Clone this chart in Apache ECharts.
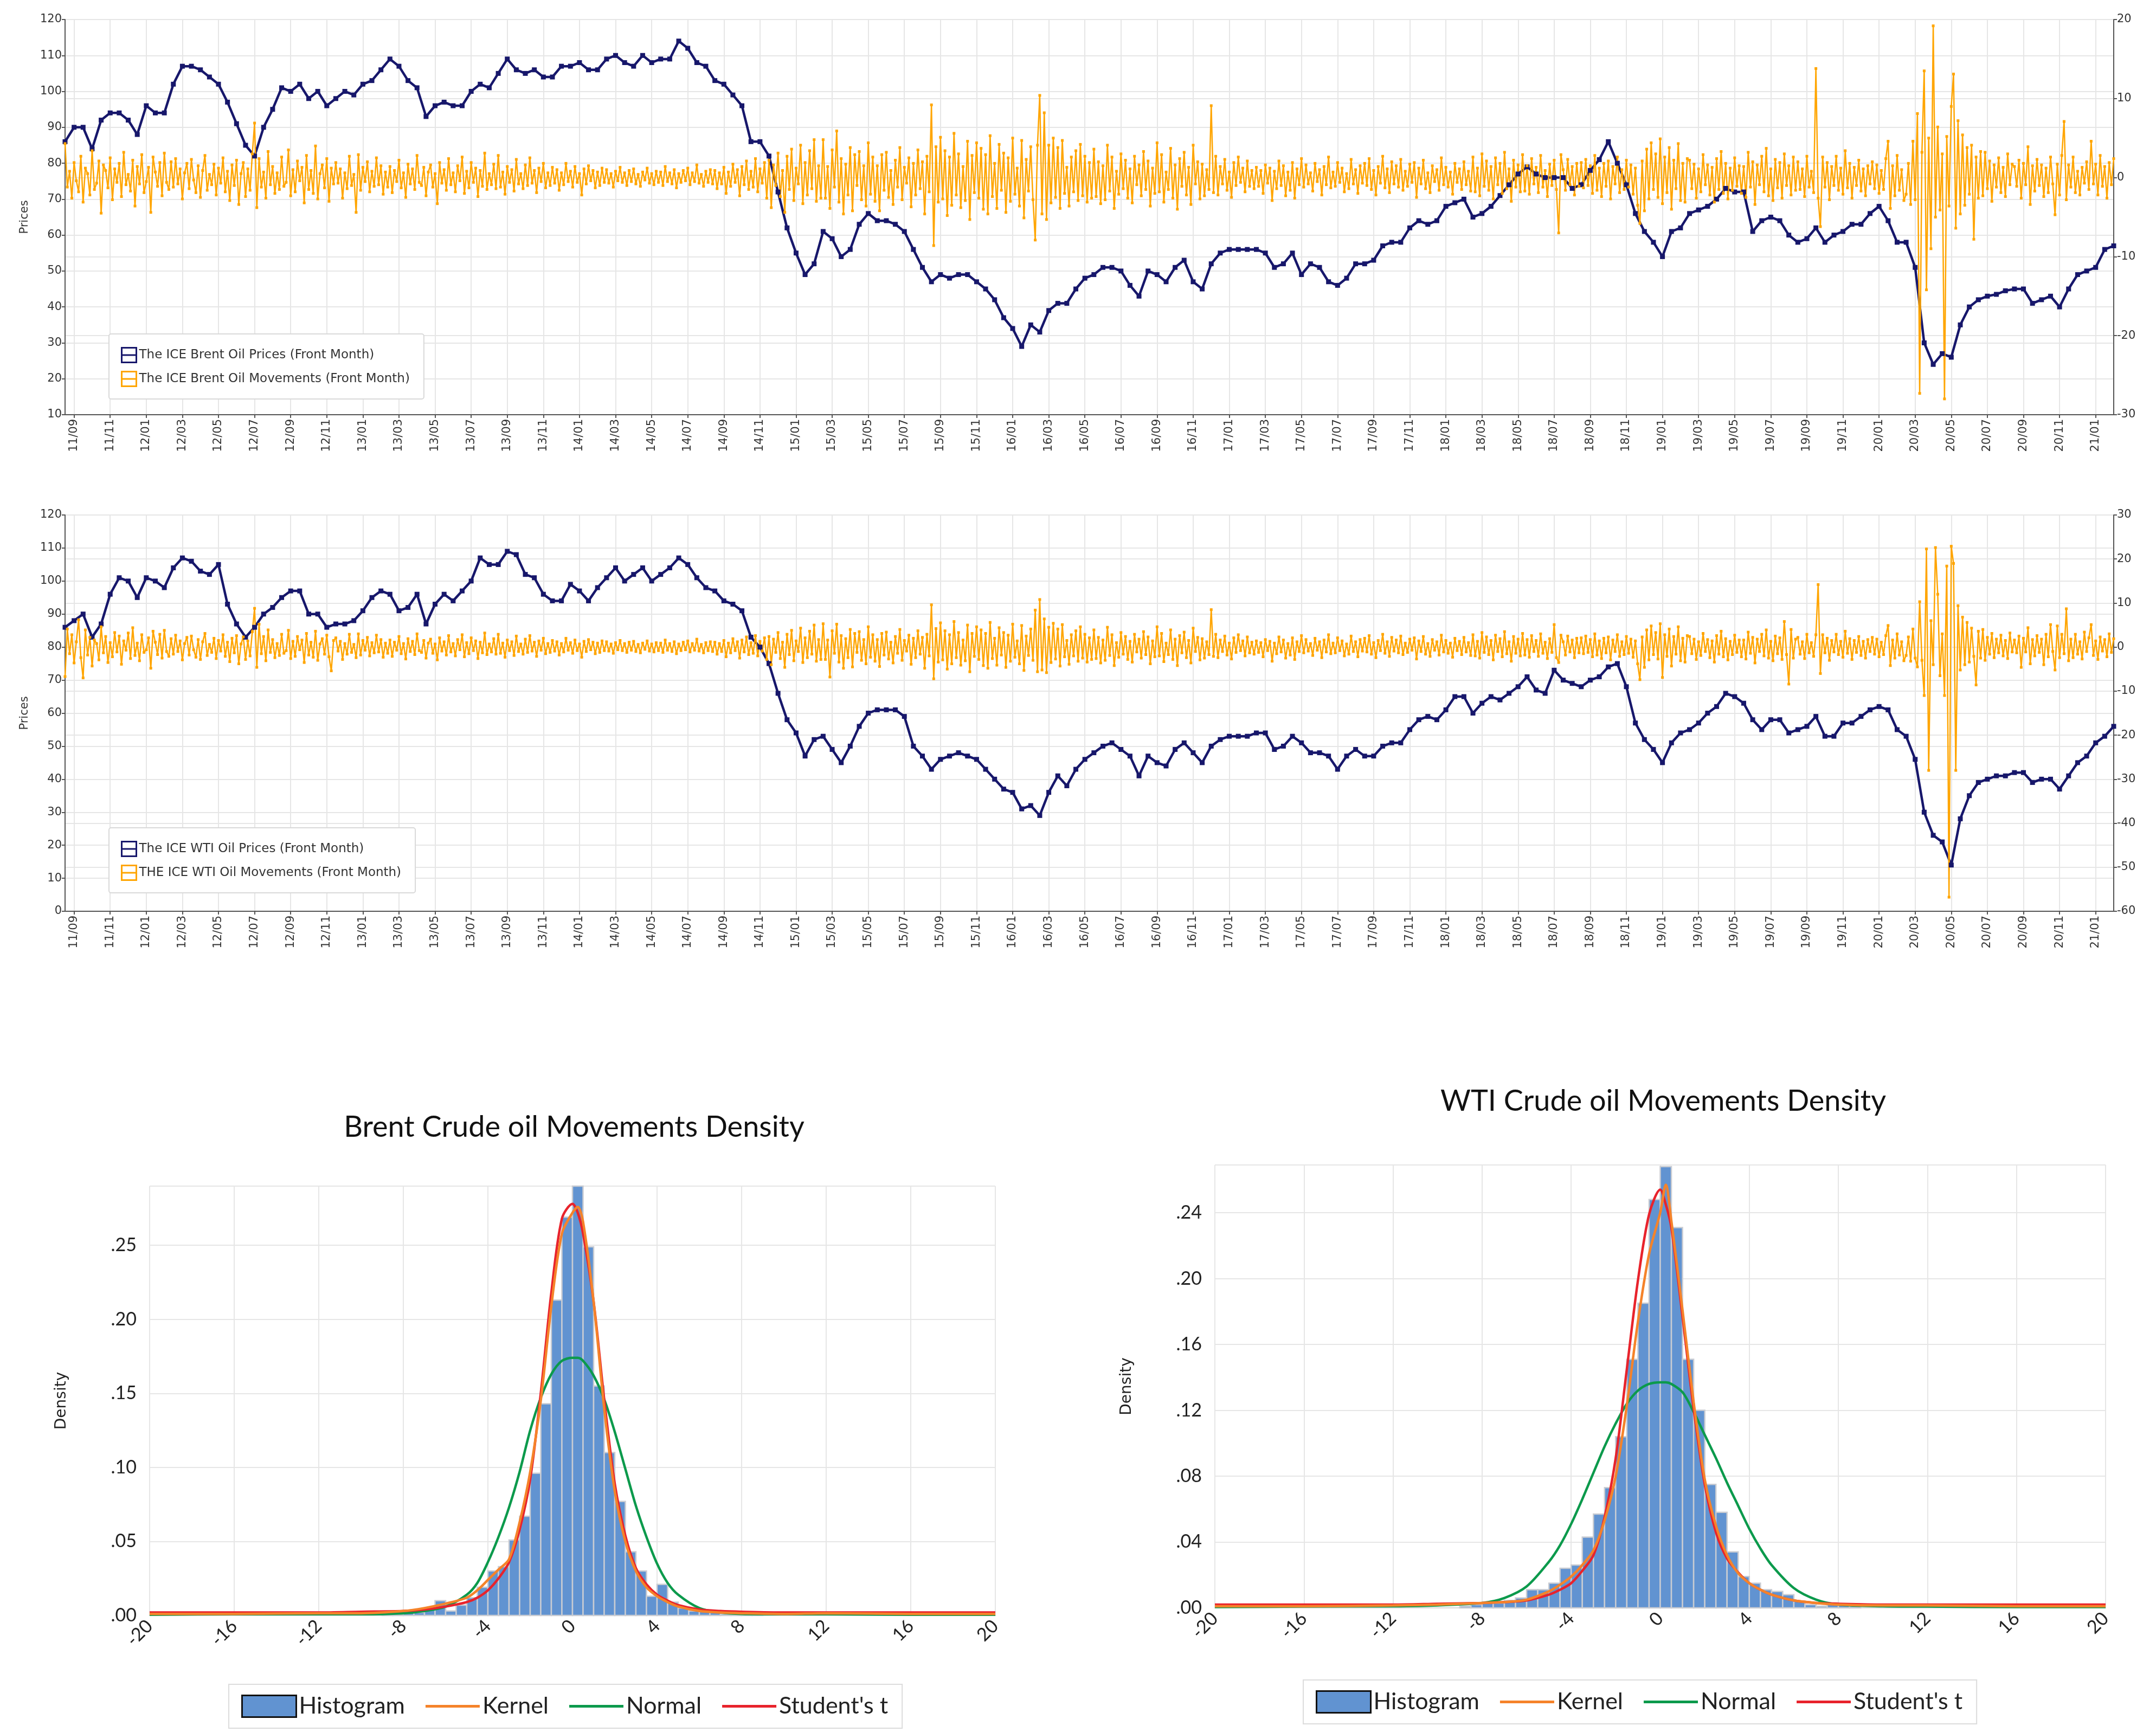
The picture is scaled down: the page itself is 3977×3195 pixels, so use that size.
<!DOCTYPE html>
<html>
<head>
<meta charset="utf-8">
<title>ICE Brent / WTI prices, movements and densities</title>
<script src="https://cdn.jsdelivr.net/npm/echarts@6/dist/echarts.min.js"></script>
<style>
  html, body { margin: 0; padding: 0; background: #fff; }
  #mainchart { width: 3977px; height: 3195px; }
</style>
</head>
<body>
<div id="mainchart"></div>
<script>
// prices: two points a month, 15 Aug 2011 .. 1 Feb 2021
var brentPrice = [
  86,90,90,84,92,94,94,92,88,96,94,94,
  102,107,107,106,104,102,97,91,85,82,90,95,
  101,100,102,98,100,96,98,100,99,102,103,106,
  109,107,103,101,93,96,97,96,96,100,102,101,
  105,109,106,105,106,104,104,107,107,108,106,106,
  109,110,108,107,110,108,109,109,114,112,108,107,
  103,102,99,96,86,86,82,72,62,55,49,52,
  61,59,54,56,63,66,64,64,63,61,56,51,
  47,49,48,49,49,47,45,42,37,34,29,35,
  33,39,41,41,45,48,49,51,51,50,46,43,
  50,49,47,51,53,47,45,52,55,56,56,56,
  56,55,51,52,55,49,52,51,47,46,48,52,
  52,53,57,58,58,62,64,63,64,68,69,70,
  65,66,68,71,74,77,79,77,76,76,76,73,
  74,78,81,86,80,74,66,61,58,54,61,62,
  66,67,68,70,73,72,72,61,64,65,64,60,
  58,59,62,58,60,61,63,63,66,68,64,58,
  58,51,30,24,27,26,35,40,42,43,43.5,44.5,
  45,45,41,42,43,40,45,49,50,51,56,57
];
var wtiPrice = [
  86,88,90,83,87,96,101,100,95,101,100,98,
  104,107,106,103,102,105,93,87,83,86,90,92,
  95,97,97,90,90,86,87,87,88,91,95,97,
  96,91,92,96,87,93,96,94,97,100,107,105,
  105,109,108,102,101,96,94,94,99,97,94,98,
  101,104,100,102,104,100,102,104,107,105,101,98,
  97,94,93,91,83,80,75,66,58,54,47,52,
  53,49,45,50,56,60,61,61,61,59,50,47,
  43,46,47,48,47,46,43,40,37,36,31,32,
  29,36,41,38,43,46,48,50,51,49,47,41,
  47,45,44,49,51,48,45,50,52,53,53,53,
  54,54,49,50,53,51,48,48,47,43,47,49,
  47,47,50,51,51,55,58,59,58,61,65,65,
  60,63,65,64,66,68,71,67,66,73,70,69,
  68,70,71,74,75,68,57,52,49,45,51,54,
  55,57,60,62,66,65,63,58,55,58,58,54,
  55,56,59,53,53,57,57,59,61,62,61,55,
  53,46,30,23,21,14,28,35,39,40,41,41,
  42,42,39,40,40,37,41,45,47,51,53,56
];

// movements: eight points a month over the same span, one row = three months
var brentMove = [
  4.3,-1.2,0.8,-2.6,1.9,-0.4,-1.8,2.7,-3.1,1.2,0.5,-2.2,3.4,-1.5,-0.7,2.1,-4.5,1.6,0.9,-1.3,2.5,-2.8,1.1,-0.6,
  1.8,-2.4,3.2,-0.9,0.4,-1.7,2.2,-3.6,1.4,-0.8,2.9,-1.9,-0.5,1.3,-4.4,2.6,0.7,-1.1,1.9,-2.3,3.1,-0.6,-1.5,2.0,
  -1.2,2.4,-0.8,1.1,-2.7,0.6,1.8,-1.4,2.3,-0.3,-1.9,1.5,-2.5,0.9,2.8,-1.6,0.4,-0.9,1.7,-2.2,1.2,-0.7,2.5,-1.8,
  0.8,-2.9,1.6,-1.0,2.2,-3.4,0.5,1.9,-2.4,1.1,-1.6,3.0,6.9,-3.8,2.4,-1.2,0.7,-2.6,3.3,-0.9,1.4,-2.0,0.6,-1.5,
  2.6,-1.1,-0.6,3.5,-2.3,1.0,-1.8,2.1,-0.4,1.3,-3.2,2.8,-1.5,0.9,-2.0,4.0,-2.7,0.5,1.6,-1.3,2.4,-3.0,1.2,-0.8,
  1.9,-0.7,1.1,-2.6,0.6,-1.4,2.7,-1.0,0.4,-4.4,2.9,-1.6,1.3,-0.5,2.0,-1.8,0.8,-1.1,2.5,-0.9,1.5,-2.1,0.7,-1.2,
  1.4,-1.9,0.9,-0.5,2.2,-1.3,0.6,-2.5,1.7,-0.8,1.1,-1.5,2.8,-0.6,-1.0,1.3,-2.3,0.7,1.6,-1.2,0.5,-3.3,1.9,-0.7,
  1.0,-1.6,2.4,-0.9,0.6,-1.8,1.5,-0.4,2.6,-2.0,0.8,-1.3,1.9,-0.6,1.2,-2.4,0.9,-1.1,3.1,-1.5,0.5,-0.9,1.7,-1.4,
  2.8,-1.2,0.7,-2.1,1.4,-0.6,1.0,-1.7,2.3,-0.8,0.5,-1.4,1.6,-1.0,2.5,-0.7,0.9,-1.9,1.2,-0.5,1.8,-1.3,0.6,-1.0,
  1.3,-0.7,1.0,-1.6,0.6,-0.9,1.8,-0.5,0.8,-1.2,1.4,-0.6,0.5,-2.2,1.1,-0.8,1.5,-0.4,0.9,-1.3,0.7,-1.0,1.2,-0.6,
  1.0,-0.7,0.5,-1.2,0.8,-0.4,1.3,-0.6,0.6,-1.0,0.9,-0.5,1.1,-0.8,0.4,-1.1,0.7,-0.3,1.2,-0.7,0.5,-0.9,0.8,-0.6,
  0.7,-1.0,1.4,-0.5,0.6,-0.8,1.0,-1.3,0.5,-0.6,0.9,-0.4,1.2,-0.9,0.6,-0.5,1.6,-0.7,0.4,-1.1,0.8,-0.6,1.0,-0.8,
  0.9,-1.4,0.6,-0.8,1.3,-2.0,0.7,-1.1,1.7,-0.6,1.0,-2.3,1.4,-0.9,2.1,-1.5,0.8,-1.2,2.4,-1.8,1.1,-0.7,1.9,-2.6,
  2.2,-3.8,1.6,-1.0,3.1,-2.4,0.9,-4.4,2.7,-1.5,3.6,-2.9,1.2,-0.8,4.1,-3.3,1.9,-2.2,3.4,-1.4,4.8,-3.0,1.5,-2.6,
  4.8,-2.6,1.4,-3.9,3.5,-1.2,5.9,-3.1,2.4,-4.6,1.7,-2.2,3.8,-4.2,2.9,-1.0,3.3,-2.8,1.5,-3.6,4.4,-2.1,2.6,-3.0,
  1.5,-4.2,2.9,-1.6,3.2,-2.5,0.9,-3.4,2.2,-1.2,3.8,-2.8,1.3,-0.7,2.5,-3.7,1.8,-2.2,3.5,-1.4,2.0,-4.6,2.7,-1.8,
  9.2,-8.6,3.9,-3.1,5.1,-2.7,3.4,-4.8,2.6,-3.5,5.6,-2.2,3.0,-3.8,1.4,-2.9,4.6,-5.3,2.8,-1.9,4.4,-2.6,3.7,-4.0,
  2.9,-4.6,5.3,-2.4,1.8,-3.9,4.2,-1.6,3.1,-4.4,2.5,-3.0,5.0,-2.1,1.2,-3.6,4.7,-5.1,2.3,-1.7,3.9,-2.8,-7.9,4.1,
  10.4,-4.6,8.2,-5.3,4.1,-3.2,5.0,-2.5,3.8,-3.9,4.7,-2.0,1.3,-3.6,2.6,-1.8,3.4,-2.9,4.2,-2.3,2.7,-3.1,1.9,-2.6,
  3.6,-2.4,2.0,-3.3,1.5,-2.8,4.1,-1.7,2.6,-3.9,0.8,-2.1,3.0,-1.4,2.2,-2.6,1.1,-3.2,2.7,-0.9,1.6,-2.3,3.3,-1.5,
  2.1,-3.6,1.2,-2.0,4.4,-1.8,2.9,-3.1,0.7,-1.5,3.7,-2.6,1.6,-4.0,2.4,-1.1,3.2,-2.2,1.3,-3.4,4.1,-0.8,2.0,-2.7,
  1.7,-2.3,1.0,-1.5,9.1,-1.9,2.7,-2.2,1.4,-0.8,2.3,-1.6,0.7,-2.5,1.9,-1.0,2.6,-0.6,1.2,-1.8,2.1,-1.1,0.9,-1.4,
  1.3,-1.1,0.9,-2.0,1.6,-0.7,1.2,-2.9,0.8,-1.4,2.1,-1.0,1.5,-2.3,0.7,-1.6,1.9,-2.6,1.1,-0.9,2.4,-1.2,1.6,-0.8,
  0.6,-1.7,1.8,-0.5,1.0,-2.2,1.4,-0.9,2.6,-1.3,0.7,-1.1,1.9,-0.6,1.2,-1.8,0.5,-1.4,2.3,-0.8,1.0,-2.0,1.5,-0.7,
  1.8,-1.0,2.4,-1.5,0.9,-2.2,1.4,-0.7,2.7,-1.3,1.1,-1.9,2.0,-0.8,1.5,-1.2,2.3,-1.6,0.8,-1.1,1.7,-0.6,1.9,-2.5,
  1.2,-0.8,2.2,-1.4,0.6,-1.9,1.5,-0.5,1.0,-1.6,2.5,-0.9,1.3,-1.2,0.7,-2.1,1.8,-0.6,1.1,-1.5,2.0,-0.9,0.8,-1.7,
  2.6,-1.8,1.2,-2.3,3.0,-1.1,2.1,-1.6,1.4,-2.7,2.5,-0.9,1.8,-2.0,3.2,-1.4,1.1,-3.0,2.2,-1.2,1.6,-1.8,2.9,-1.7,
  1.5,-2.1,2.4,-0.8,1.3,-1.9,2.8,-1.2,0.9,-2.4,1.7,-1.0,2.2,-1.5,-7.0,2.9,1.0,-1.6,2.3,-0.9,1.4,-2.2,1.8,-1.1,
  1.9,-1.3,2.3,-1.0,1.5,-2.0,2.8,-1.6,1.2,-2.4,1.8,-1.1,2.1,-2.7,1.4,-0.8,2.6,-1.9,1.0,-1.5,2.2,-1.2,1.6,-2.1,
  1.2,-3.5,-5.8,2.1,-4.2,3.6,-2.7,4.4,-1.5,3.0,-2.5,4.9,-3.3,2.6,-1.9,3.8,-4.0,2.2,-1.4,4.3,-2.9,1.8,-3.1,2.4,
  2.2,-1.4,1.7,-2.6,1.1,-1.8,2.9,-0.9,1.6,-2.2,1.3,-3.1,2.4,-1.5,3.3,-2.0,1.8,-2.7,1.2,-1.6,2.5,-1.1,1.5,-2.0,
  1.4,-2.5,3.2,-1.2,2.0,-3.4,1.6,-0.9,2.7,-1.8,3.7,-2.3,1.1,-2.9,2.3,-1.3,1.9,-2.6,3.0,-1.0,1.5,-2.2,2.6,-1.6,
  2.0,-1.5,1.1,-2.4,2.7,-1.2,0.8,-1.9,13.8,-2.6,-6.2,2.6,-1.2,1.9,-2.8,1.4,-1.0,2.7,-1.6,1.2,-2.1,3.4,-1.3,1.8,
  -2.6,1.3,-1.0,2.2,-1.7,1.1,-2.3,1.5,-0.8,2.0,-1.4,1.6,-2.0,0.9,-1.5,2.4,4.6,-3.9,1.5,-2.3,2.8,-1.6,1.0,-2.9,
  -2.1,1.8,-3.4,4.6,-2.8,8.1,-27.3,3.2,13.5,-14.2,5.0,-9.0,19.2,-5.0,6.4,-4.1,3.0,-28.0,5.2,-3.6,9.0,13.1,-6.4,7.2,
  -4.6,5.4,-3.5,3.8,-2.1,4.1,-7.8,2.6,-2.6,3.3,-2.3,3.2,-1.4,2.1,-3.0,1.6,-1.2,2.5,-1.9,1.3,-2.4,3.0,-0.9,1.7,
  1.4,-1.1,2.2,-2.6,1.8,-0.9,3.9,-3.4,1.5,-1.7,2.3,-1.0,1.6,-2.4,1.2,-1.9,2.6,-0.8,-4.7,1.7,-2.2,2.8,7.1,-2.8,
  1.6,-1.2,2.6,-1.9,0.8,-2.2,1.3,-0.7,2.0,-1.5,4.6,-0.8,1.7,-2.2,2.8,-1.1,1.4,-2.6,1.9,-0.9,2.4
];
var wtiMove = [
  -6.7,4.1,-1.5,2.8,-3.6,1.2,6.2,-2.4,-7.0,3.9,-1.8,2.2,-4.3,1.6,0.8,-2.9,4.6,-1.3,2.4,-3.5,1.0,-2.2,3.3,-1.1,
  2.5,-3.9,1.4,-0.7,3.2,-2.6,4.4,-1.9,0.9,-3.1,2.8,-1.2,-0.6,2.1,-4.8,3.6,1.1,-1.7,2.9,-2.5,3.8,-1.0,-2.1,1.9,
  -1.6,2.7,-1.0,1.4,-2.9,0.8,2.2,-1.8,2.5,-0.6,-2.3,1.7,-2.8,1.2,3.1,-1.9,0.6,-1.2,2.0,-2.6,1.5,-0.9,2.8,-2.1,
  1.1,-3.3,2.0,-1.3,2.6,-3.8,0.7,2.3,-2.8,1.4,-2.0,3.5,8.8,-4.6,5.2,-1.5,2.4,-3.1,3.9,-1.2,1.7,-2.4,0.8,-1.9,
  2.9,-1.4,-0.8,3.8,-2.6,1.3,-2.1,2.4,-0.6,1.6,-3.5,3.1,-1.8,1.1,-2.3,3.6,-3.0,0.7,1.9,-1.6,2.7,-2.2,-5.4,1.5,
  2.1,-0.9,1.3,-2.8,0.8,-1.6,2.9,-1.2,0.6,-2.4,3.0,-1.8,1.5,-0.7,2.2,-2.0,1.0,-1.3,2.7,-1.1,1.7,-2.3,0.9,-1.4,
  1.6,-2.1,1.1,-0.7,2.4,-1.5,0.8,-2.7,1.9,-1.0,1.3,-1.7,3.0,-0.8,-1.2,1.5,-2.5,0.9,1.8,-1.4,0.7,-2.9,2.1,-0.9,
  1.2,-1.8,2.6,-1.1,0.8,-2.0,1.7,-0.6,2.8,-2.2,1.0,-1.5,2.1,-0.8,1.4,-2.6,1.1,-1.3,3.2,-1.7,0.7,-1.1,1.9,-1.6,
  2.9,-1.4,0.9,-2.3,1.6,-0.8,1.2,-1.9,2.5,-1.0,0.7,-1.6,1.8,-1.2,2.6,-0.9,1.1,-2.1,1.4,-0.7,2.0,-1.5,0.8,-1.2,
  1.5,-0.9,1.2,-1.8,0.8,-1.1,2.0,-0.7,1.0,-1.4,1.6,-0.8,0.7,-2.3,1.3,-1.0,1.7,-0.6,1.1,-1.5,0.9,-1.2,1.4,-0.8,
  1.2,-0.9,0.7,-1.4,1.0,-0.6,1.5,-0.8,0.8,-1.2,1.1,-0.7,1.3,-1.0,0.6,-1.3,0.9,-0.5,1.4,-0.9,0.7,-1.1,1.0,-0.8,
  0.9,-1.2,1.6,-0.7,0.8,-1.0,1.2,-1.5,0.7,-0.8,1.1,-0.6,1.4,-1.1,0.8,-0.7,1.8,-0.9,0.6,-1.3,1.0,-0.8,1.2,-1.0,
  1.1,-1.6,0.8,-1.0,1.5,-2.2,0.9,-1.3,1.9,-0.8,1.2,-2.5,1.6,-1.1,2.3,-1.7,1.0,-1.4,2.6,-2.0,1.3,-0.9,2.1,-2.8,
  2.4,-4.0,1.8,-1.2,3.3,-2.6,1.1,-4.6,2.9,-1.7,3.8,-3.1,1.4,-1.0,4.3,-3.5,2.1,-2.4,3.6,-1.6,5.0,-3.2,1.7,-2.8,
  5.3,-2.8,1.6,-6.8,3.7,-1.4,5.2,-3.4,2.6,-4.8,1.9,-2.4,4.0,-4.5,3.1,-1.2,3.5,-3.0,1.7,-3.8,4.6,-2.3,2.8,-3.2,
  1.7,-4.4,3.1,-1.8,3.4,-2.7,1.1,-3.6,2.4,-1.4,4.0,-3.0,1.5,-0.9,2.7,-3.9,2.0,-2.4,3.7,-1.6,2.2,-4.8,2.9,-2.0,
  9.6,-7.2,4.2,-3.4,5.5,-2.9,3.7,-5.0,2.8,-3.8,5.8,-2.4,3.3,-4.1,1.6,-3.1,5.0,-5.6,3.1,-2.1,4.6,-2.8,3.9,-4.2,
  3.1,-4.8,5.6,-2.6,2.0,-4.1,4.4,-1.8,3.3,-4.6,2.7,-3.2,5.2,-2.3,1.4,-3.8,4.9,-5.3,2.5,-1.9,4.1,-3.0,8.4,-5.6,
  10.8,-5.2,6.4,-5.8,4.5,-3.5,5.4,-2.7,4.1,-4.3,5.1,-2.2,1.5,-3.9,2.8,-2.0,3.7,-3.2,4.6,-2.5,2.9,-3.4,2.1,-2.8,
  3.9,-2.6,2.2,-3.6,1.6,-3.0,4.5,-1.9,2.8,-4.2,1.0,-2.3,3.3,-1.6,2.4,-2.8,1.3,-3.4,2.9,-1.1,1.8,-2.5,3.5,-1.7,
  2.3,-3.8,1.4,-2.2,4.6,-2.0,3.1,-3.3,0.9,-1.7,3.9,-2.8,1.8,-4.2,2.6,-1.3,3.4,-2.4,1.5,-3.6,4.3,-1.0,2.2,-2.9,
  1.9,-2.5,1.2,-1.7,8.5,-2.1,2.9,-2.4,1.6,-1.0,2.5,-1.8,0.9,-2.7,2.1,-1.2,2.8,-0.8,1.4,-2.0,2.3,-1.3,1.1,-1.6,
  1.4,-1.2,1.0,-2.2,1.7,-0.8,1.3,-3.2,0.9,-1.5,2.3,-1.1,1.6,-2.5,0.8,-1.8,2.1,-2.8,1.2,-1.0,2.6,-1.3,1.7,-0.9,
  0.8,-1.9,2.0,-0.7,1.2,-2.4,1.6,-1.1,2.8,-1.5,0.9,-1.3,2.1,-0.8,1.4,-2.0,0.7,-1.6,2.5,-1.0,1.2,-2.2,1.7,-0.9,
  2.0,-1.1,2.6,-1.6,1.0,-2.4,1.5,-0.8,2.9,-1.4,1.2,-2.1,2.2,-0.9,1.6,-1.3,2.5,-1.7,0.9,-1.2,1.8,-0.7,2.1,-2.7,
  1.4,-1.0,2.4,-1.6,0.8,-2.1,1.7,-0.7,1.2,-1.8,2.7,-1.1,1.5,-1.4,0.9,-2.3,2.0,-0.8,1.3,-1.7,2.2,-1.1,1.0,-1.9,
  2.8,-2.0,1.3,-2.5,3.3,-1.2,2.3,-1.7,1.5,-2.9,2.7,-1.0,1.9,-2.2,3.5,-1.5,1.2,-3.2,2.4,-1.4,1.8,-2.0,3.1,-1.8,
  1.7,-2.3,2.6,-1.0,1.5,-2.1,3.0,-1.4,1.1,-2.6,1.9,-1.2,5.1,-2.4,-3.5,2.7,1.2,-1.8,2.5,-1.1,1.6,-2.4,2.0,-1.3,
  2.1,-1.5,2.5,-1.2,1.7,-2.2,3.0,-1.8,1.4,-2.6,2.0,-1.3,2.3,-2.9,1.6,-1.0,2.8,-2.1,1.2,-1.7,2.4,-1.4,1.8,-2.3,
  1.4,-3.8,-7.4,2.3,-4.6,3.9,-2.9,4.8,-1.7,3.3,-2.7,5.3,-6.9,2.8,-2.1,4.1,-4.3,2.4,-1.6,4.6,-3.1,2.0,-3.4,2.6,
  2.4,-1.5,1.8,-2.8,1.2,-1.9,3.1,-1.0,1.7,-2.4,1.4,-3.4,2.6,-1.6,3.6,-2.2,1.9,-2.9,1.3,-1.7,2.7,-1.2,1.6,-2.2,
  1.6,-2.7,3.4,-1.4,2.2,-3.6,1.8,-1.0,2.9,-2.0,3.9,-2.5,1.3,-3.1,2.5,-1.5,2.1,-2.8,5.8,-1.7,-8.4,4.0,-2.5,1.8,
  2.2,-1.6,1.2,-2.6,2.9,-1.3,1.0,-2.1,2.8,14.2,-6.0,2.8,-1.3,2.0,-3.0,1.5,-1.1,2.9,-1.7,1.3,-2.3,3.6,-1.4,1.9,
  -2.8,1.5,-1.2,2.4,-1.9,1.3,-2.5,1.7,-1.0,2.2,-1.6,1.8,-2.2,1.1,-1.7,2.6,4.9,-4.2,1.6,-2.5,3.0,-1.8,1.2,-3.1,
  -1.9,2.3,-3.2,4.1,-2.5,-4.5,10.3,-3.0,-11.0,22.3,-28.0,6.0,-4.0,22.6,12.0,-6.5,3.0,-11.0,18.4,-56.8,22.9,19.0,-28.0,9.4,
  -5.2,6.8,-4.0,5.6,-3.4,4.3,-2.1,-8.6,3.6,-2.5,4.0,-3.0,2.2,-1.6,3.1,-2.4,1.8,-1.3,2.7,-2.0,1.5,-2.6,3.2,-1.1,
  1.6,-1.3,2.5,-4.6,2.0,-1.1,4.4,-3.8,1.7,-2.0,2.6,-1.2,1.8,-4.0,2.9,-2.2,5.1,-1.0,-5.2,4.8,-2.4,2.9,-1.5,8.7,
  -3.1,1.8,-2.4,2.9,-1.6,1.2,-2.7,3.4,-1.0,2.1,5.1,-1.9,1.4,-2.8,2.3,-0.9,1.7,-2.2,3.0,-1.2,1.9
];

// densities: histogram bins of 0.5 starting at -9
var histStart = -9;
var binW = 0.5;
var brentHist = [
  .001,.001,.002,.002,.004,.010,.003,.007,.012,.019,.030,.033,.051,.067,.096,.143,.213,.269,
  .290,.249,.155,.110,.077,.043,.030,.013,.021,.009,.005,.003,.003,.002,.001,.001,.001,.001
];
var wtiHist = [
  .001,.002,.003,.003,.0045,.006,.011,.011,.015,.024,.026,.043,.057,.073,.104,.151,.185,.248,
  .268,.231,.151,.120,.075,.058,.034,.019,.015,.011,.010,.008,.004,.002,.001,.003,.002,.001
];
var curveX = [-20,-16,-12,-10,-8,-7,-6,-5,-4.5,-4,-3.5,-3,-2.5,-2,-1.5,-1,-0.5,0,0.25,0.5,1,1.5,2,2.5,3,3.5,4,4.5,5,6,7,8,10,12,16,20];
var brentNormal = [.0005,.0008,.0008,.0008,.0015,.003,.006,.014,.022,.036,.053,.073,.097,.125,.147,.163,.172,.174,.174,.172,.162,.146,.124,.099,.074,.053,.035,.022,.014,.005,.002,.001,.0008,.0008,.0005,.0005];
var brentKernel = [.001,.001,.0015,.0015,.003,.005,.008,.012,.017,.024,.031,.038,.063,.097,.145,.209,.258,.272,.276,.266,.212,.140,.084,.050,.030,.019,.013,.009,.006,.003,.002,.0015,.001,.0015,.001,.001];
var brentStudent = [.002,.002,.002,.0025,.003,.004,.006,.009,.012,.017,.025,.036,.058,.092,.150,.218,.268,.278,.272,.258,.212,.146,.089,.054,.032,.021,.014,.010,.007,.004,.003,.0025,.002,.002,.002,.002];
var wtiNormal = [.0005,.0008,.001,.0015,.003,.006,.013,.028,.038,.051,.066,.082,.098,.112,.124,.132,.136,.137,.137,.136,.131,.119,.105,.091,.076,.062,.048,.036,.026,.012,.005,.002,.001,.0008,.0005,.0005];
var wtiKernel = [.001,.001,.0015,.002,.003,.0035,.005,.010,.014,.019,.026,.035,.053,.080,.123,.174,.215,.240,.257,.235,.181,.125,.078,.050,.032,.021,.015,.011,.008,.0045,.003,.002,.0015,.0015,.001,.001];
var wtiStudent = [.002,.002,.002,.0025,.003,.0035,.0045,.008,.011,.015,.0225,.032,.055,.091,.145,.199,.239,.254,.245,.231,.177,.121,.075,.046,.030,.0215,.015,.011,.008,.0045,.003,.0025,.002,.002,.002,.002];

var navy = '#17176b';
var orange = '#ffa500';
var histBlue = '#6193d1';
var kernelColor = '#f5832a';
var normalColor = '#0c9a4c';
var studentColor = '#e8232c';
var gridGray = '#e6e6e6';

var myChart = echarts.init(document.getElementById('mainchart'));

function pad(n) { return n < 10 ? '0' + n : '' + n; }
// dates for n points, perMonth a month, first one on 15 Aug 2011
function makeDates(n, perMonth) {
  var days = perMonth === 2 ? ['01', '15'] : ['01', '04', '08', '12', '15', '19', '23', '27'];
  var out = [];
  for (var i = 0; i < n; i++) {
    var k = i + perMonth / 2;
    var mm = 7 + Math.floor(k / perMonth);
    out.push((2011 + Math.floor(mm / 12)) + '-' + pad(mm % 12 + 1) + '-' + days[k % perMonth]);
  }
  return out;
}
function isTick(idx, val) { return val.slice(8) === '01' && (+val.slice(5, 7)) % 2 === 1; }
function pairs(xs, ys) { return ys.map(function (y, i) { return [xs[i], y]; }); }
function histData(h) { return h.map(function (v, i) { return [histStart + i * binW, v]; }); }

var priceDates = makeDates(brentPrice.length, 2);
var moveDates = makeDates(brentMove.length, 8);

var tsFont = { fontFamily: 'DejaVu Sans', fontSize: 21, color: '#333' };
var calib = 'Lato';

function tsXAxes(gi) {
  return [{
    gridIndex: gi, type: 'category', data: priceDates, boundaryGap: false,
    axisLine: { onZero: false, lineStyle: { color: '#555', width: 2 } },
    axisTick: { interval: isTick, length: 6, lineStyle: { color: '#555', width: 2 } },
    axisLabel: { interval: isTick, rotate: 90, margin: 8, fontFamily: 'DejaVu Sans', fontSize: 21, color: '#333',
      formatter: function (v) { return v.slice(2, 4) + '/' + v.slice(5, 7); } },
    splitLine: { show: true, interval: isTick, lineStyle: { color: gridGray, width: 2 } }
  }, {
    gridIndex: gi, type: 'category', data: moveDates, boundaryGap: false, show: false,
    axisLine: { onZero: false }
  }];
}
function tsYAxis(gi, pos, min, max, name) {
  return {
    gridIndex: gi, type: 'value', position: pos, min: min, max: max, interval: 10,
    name: name, nameLocation: 'middle', nameGap: 64, nameTextStyle: tsFont,
    axisLine: { show: true, onZero: false, lineStyle: { color: '#555', width: 2 } },
    axisTick: { show: true, length: 6, lineStyle: { color: '#555', width: 2 } },
    axisLabel: { margin: 6, fontFamily: 'DejaVu Sans', fontSize: 21, color: '#333' },
    splitLine: { show: true, lineStyle: { color: gridGray, width: 2 } }
  };
}
var boxIcon = 'path://M0,0L20,0L20,20L0,20Z M0,10L20,10';
function tsLegend(top, names) {
  return {
    orient: 'vertical', left: 201, top: top, padding: [24, 26, 22, 22], itemGap: 14,
    itemWidth: 27, itemHeight: 27, selectedMode: false,
    borderColor: '#d9d9d9', borderWidth: 2, borderRadius: 4, backgroundColor: '#fff',
    textStyle: { fontFamily: 'DejaVu Sans', fontSize: 23, color: '#333' },
    data: [
      { name: names[0], icon: boxIcon, itemStyle: { color: 'rgba(0,0,0,0)', borderColor: navy, borderWidth: 3 } },
      { name: names[1], icon: boxIcon, itemStyle: { color: 'rgba(0,0,0,0)', borderColor: orange, borderWidth: 3 } }
    ]
  };
}

function densXAxis(gi) {
  return {
    gridIndex: gi, type: 'value', min: -20, max: 20, interval: 4,
    axisLine: { show: true, onZero: false, lineStyle: { color: '#d8d8d8', width: 2 } },
    axisTick: { show: false },
    axisLabel: { rotate: 45, margin: 14, fontFamily: calib, fontSize: 34, color: '#222' },
    splitLine: { show: true, lineStyle: { color: gridGray, width: 2 } }
  };
}
function densYAxis(gi, max, step) {
  return {
    gridIndex: gi, type: 'value', min: 0, max: max, interval: step,
    name: 'Density', nameLocation: 'middle', nameGap: 148,
    nameTextStyle: { fontFamily: 'DejaVu Sans', fontSize: 28, color: '#222' },
    axisLine: { show: false }, axisTick: { show: false },
    axisLabel: { margin: 24, showMaxLabel: false, fontFamily: calib, fontSize: 34, color: '#222',
      formatter: function (v) { return v.toFixed(2).replace(/^0/, ''); } },
    splitLine: { show: true, lineStyle: { color: gridGray, width: 2 } }
  };
}
var lineIcon = 'path://M0,0L100,0L100,5L0,5Z';
function densLegend(left, top) {
  return {
    left: left, top: top, padding: [19, 26, 19, 23], itemGap: 38,
    itemWidth: 100, itemHeight: 40, selectedMode: false,
    borderColor: '#dcdcdc', borderWidth: 2, backgroundColor: '#fff',
    textStyle: { fontFamily: calib, fontSize: 43, color: '#222' },
    data: [
      { name: 'Histogram', icon: 'rect', itemStyle: { color: histBlue, borderColor: '#111', borderWidth: 3 } },
      { name: 'Kernel', icon: lineIcon, itemStyle: { color: kernelColor } },
      { name: 'Normal', icon: lineIcon, itemStyle: { color: normalColor } },
      { name: "Student's t", icon: lineIcon, itemStyle: { color: studentColor } }
    ]
  };
}
function histSeries(gi, h) {
  return {
    name: 'Histogram', type: 'custom', xAxisIndex: 4 + gi, yAxisIndex: 4 + gi,
    data: histData(h), encode: { x: 0, y: 1 }, itemStyle: { color: histBlue },
    renderItem: function (params, api) {
      var p0 = api.coord([api.value(0), api.value(1)]);
      var p1 = api.coord([api.value(0) + binW, 0]);
      return {
        type: 'rect',
        shape: { x: p0[0], y: p0[1], width: p1[0] - p0[0], height: p1[1] - p0[1] },
        style: { fill: histBlue, stroke: '#c9ccd2', lineWidth: 2.5 }
      };
    }
  };
}
function curveSeries(gi, name, color, ys) {
  return {
    name: name, type: 'line', xAxisIndex: 4 + gi, yAxisIndex: 4 + gi,
    data: pairs(curveX, ys), smooth: 0.3, symbol: 'none',
    lineStyle: { color: color, width: 4.5 }, itemStyle: { color: color }
  };
}
function priceSeries(name, xi, data) {
  return { name: name, type: 'line', xAxisIndex: xi, yAxisIndex: xi, data: data,
    symbol: 'rect', symbolSize: 9, showAllSymbol: true,
    lineStyle: { color: navy, width: 4.5 }, itemStyle: { color: navy } };
}
function moveSeries(name, xi, data) {
  return { name: name, type: 'line', xAxisIndex: xi, yAxisIndex: xi, data: data,
    symbol: 'rect', symbolSize: 5, showAllSymbol: true,
    lineStyle: { color: orange, width: 2.5 }, itemStyle: { color: orange } };
}

var brentNames = ['The ICE Brent Oil Prices (Front Month)', 'The ICE Brent Oil Movements (Front Month)'];
var wtiNames = ['The ICE WTI Oil Prices (Front Month)', 'THE ICE WTI Oil Movements (Front Month)'];

var option = {
  animation: false,
  backgroundColor: '#fff',
  title: [
    { text: 'Brent Crude oil Movements Density', left: 1054, top: 2048, textAlign: 'center',
      textStyle: { fontFamily: calib, fontSize: 54, fontWeight: 'normal', color: '#111' } },
    { text: 'WTI Crude oil Movements Density', left: 3063, top: 2000, textAlign: 'center',
      textStyle: { fontFamily: calib, fontSize: 54, fontWeight: 'normal', color: '#111' } }
  ],
  grid: [
    { left: 120, right: 78, top: 36, height: 729 },
    { left: 120, right: 78, top: 950, height: 731 },
    { left: 276, width: 1560, top: 2188, height: 792 },
    { left: 2241, width: 1643, top: 2149, height: 817 }
  ],
  legend: [
    tsLegend(616, brentNames),
    tsLegend(1527, wtiNames),
    densLegend(422, 3107),
    densLegend(2404, 3099)
  ],
  xAxis: tsXAxes(0).concat(tsXAxes(1), [densXAxis(2), densXAxis(3)]),
  yAxis: [
    tsYAxis(0, 'left', 10, 120, 'Prices'),
    tsYAxis(0, 'right', -30, 20, ''),
    tsYAxis(1, 'left', 0, 120, 'Prices'),
    tsYAxis(1, 'right', -60, 30, ''),
    densYAxis(2, 0.29, 0.05),
    densYAxis(3, 0.269, 0.04)
  ],
  series: [
    priceSeries(brentNames[0], 0, brentPrice),
    moveSeries(brentNames[1], 1, brentMove),
    priceSeries(wtiNames[0], 2, wtiPrice),
    moveSeries(wtiNames[1], 3, wtiMove),

    histSeries(0, brentHist),
    curveSeries(0, 'Normal', normalColor, brentNormal),
    curveSeries(0, "Student's t", studentColor, brentStudent),
    curveSeries(0, 'Kernel', kernelColor, brentKernel),

    histSeries(1, wtiHist),
    curveSeries(1, 'Normal', normalColor, wtiNormal),
    curveSeries(1, "Student's t", studentColor, wtiStudent),
    curveSeries(1, 'Kernel', kernelColor, wtiKernel)
  ]
};
myChart.setOption(option);
</script>
</body>
</html>
